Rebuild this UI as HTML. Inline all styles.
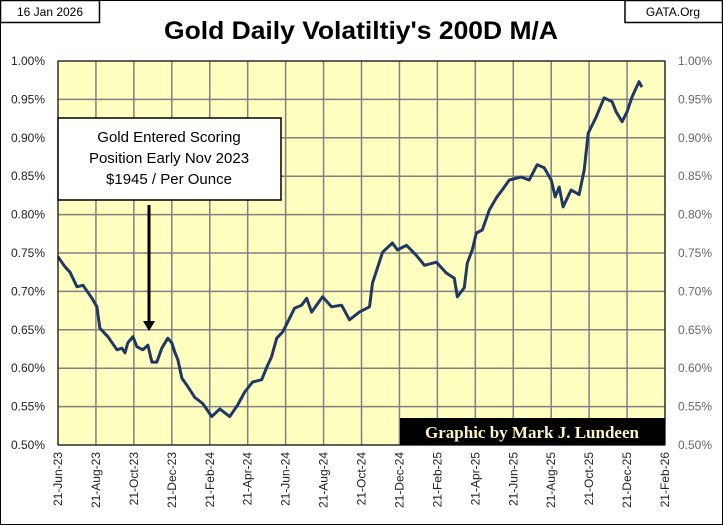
<!DOCTYPE html>
<html><head><meta charset="utf-8"><style>
body{margin:0;background:#fff;}
svg{display:block;font-family:"Liberation Sans",sans-serif;}
</style></head><body>
<svg id="chart" width="723" height="525" viewBox="0 0 723 525">
<rect x="0.5" y="0.5" width="722" height="524" fill="#fff" stroke="#000"/>
<rect x="0.5" y="0.5" width="99" height="22" fill="#fff" stroke="#000" stroke-width="1.5"/>
<text x="50" y="16" font-size="12" text-anchor="middle">16 Jan 2026</text>
<rect x="625" y="0.5" width="97.5" height="22" fill="#fff" stroke="#000" stroke-width="1.5"/>
<text x="673" y="16" font-size="12" text-anchor="middle">GATA.Org</text>
<text x="361" y="39" font-size="25" font-weight="bold" text-anchor="middle" textLength="394" lengthAdjust="spacingAndGlyphs">Gold Daily Volatiltiy's 200D M/A</text>
<rect x="58" y="61" width="607" height="384" fill="#ffffc0"/>
<g id="grid"></g>
<g id="ylabels"></g>
<g id="xlabels"></g>
<path id="series" fill="none" stroke="#1f3864" stroke-width="3" stroke-linejoin="round"/>
<rect x="58" y="61" width="607" height="384" fill="none" stroke="#000" stroke-width="1"/>
<g>
<rect x="58" y="118" width="223" height="82" fill="#fff" stroke="#000" stroke-width="1.5"/>
<text x="169" y="142" font-size="15" text-anchor="middle">Gold Entered  Scoring</text>
<text x="169" y="163" font-size="15" text-anchor="middle">Position Early Nov 2023</text>
<text x="169" y="184" font-size="15" text-anchor="middle">$1945 / Per Ounce</text>
</g>
<g>
<line x1="149" y1="205" x2="149" y2="322" stroke="#000" stroke-width="3"/>
<polygon points="143,321 155,321 149,331" fill="#000"/>
</g>
<rect x="400" y="418" width="265" height="27" fill="#000"/>
<text x="532" y="438" font-size="17" font-weight="bold" fill="#fdf5c8" text-anchor="middle" font-family="Liberation Serif,serif">Graphic by Mark J. Lundeen</text>
</svg>
<script>
const xTickLabels=["21-Jun-23","21-Aug-23","21-Oct-23","21-Dec-23","21-Feb-24","21-Apr-24","21-Jun-24","21-Aug-24","21-Oct-24","21-Dec-24","21-Feb-25","21-Apr-25","21-Jun-25","21-Aug-25","21-Oct-25","21-Dec-25","21-Feb-26"];
const yTicks=[0.50,0.55,0.60,0.65,0.70,0.75,0.80,0.85,0.90,0.95,1.00];
// months since 21-Jun-23
const months=[0,.37,.63,1.0,1.32,1.79,2.05,2.21,2.63,3.11,3.37,3.53,3.68,3.95,4.16,4.47,4.74,4.95,5.21,5.47,5.79,6.0,6.16,6.32,6.53,6.79,7.21,7.63,8.11,8.53,9.05,9.47,9.84,10.26,10.74,11.0,11.26,11.53,11.84,12.11,12.47,12.84,13.11,13.37,13.95,14.42,14.95,15.37,15.89,16.42,16.58,17.11,17.63,17.89,18.37,18.89,19.32,19.95,20.47,20.89,21.05,21.42,21.58,21.84,22.05,22.37,22.74,23.11,23.42,23.79,24.42,24.84,25.26,25.63,26.0,26.21,26.42,26.63,27.05,27.47,27.74,27.95,28.37,28.79,29.21,29.42,29.74,30.0,30.26,30.63,30.79];
const vol=[.745,.732,.725,.706,.708,.691,.680,.652,.641,.624,.626,.620,.633,.641,.628,.624,.630,.608,.608,.626,.639,.633,.621,.611,.587,.578,.562,.554,.537,.547,.537,.552,.569,.582,.585,.601,.615,.639,.647,.660,.678,.682,.691,.673,.693,.680,.682,.663,.673,.680,.711,.751,.763,.754,.760,.747,.734,.738,.724,.717,.693,.705,.737,.754,.776,.780,.806,.822,.832,.845,.849,.845,.865,.861,.845,.823,.836,.810,.832,.826,.858,.906,.927,.952,.947,.934,.921,.934,.953,.973,.966];
const X0=58,X1=665,Y0=445,Y1=61,MMAX=32,VMIN=.5,VMAX=1.0;
const xs=m=>X0+(X1-X0)*m/MMAX;
const ys=v=>Y0-(Y0-Y1)*(v-VMIN)/(VMAX-VMIN);
const NS="http://www.w3.org/2000/svg";
const grid=document.getElementById('grid'),yl=document.getElementById('ylabels'),xl=document.getElementById('xlabels');
function mk(t,a){const e=document.createElementNS(NS,t);for(const k in a)e.setAttribute(k,a[k]);return e;}
yTicks.forEach(v=>{
 const y=ys(v);
 const l=mk('line',{x1:X0,x2:X1,y1:y,y2:y,stroke:'#808080','stroke-width':1.5});
 
 
 grid.appendChild(l);
 const t=mk('text',{x:45,y:y+4,'font-size':12,'text-anchor':'end',fill:'#222'});
 t.textContent=(v*1).toFixed(2)+'%';
 
 
 yl.appendChild(t);
 const t2=mk('text',{x:678,y:y+4,'font-size':12,fill:'#666'});
 t2.textContent=(v*1).toFixed(2)+'%';
 
 
 yl.appendChild(t2);
});
xTickLabels.forEach((s,i)=>{
 const x=xs(i*2);
 const l=mk('line',{x1:x,x2:x,y1:Y1,y2:Y0,stroke:'#808080','stroke-width':1.5});
 
 
 grid.appendChild(l);
 const t=mk('text',{x:0,y:0,'font-size':12,'text-anchor':'end',fill:'#222',transform:`translate(${x+4},452) rotate(-90)`});
 t.textContent=s;
 
 
 xl.appendChild(t);
});
document.getElementById('series').setAttribute('d',months.map((m,i)=>(i?'L':'M')+xs(m).toFixed(1)+','+ys(vol[i]).toFixed(1)).join(''));
</script>
</body></html>
